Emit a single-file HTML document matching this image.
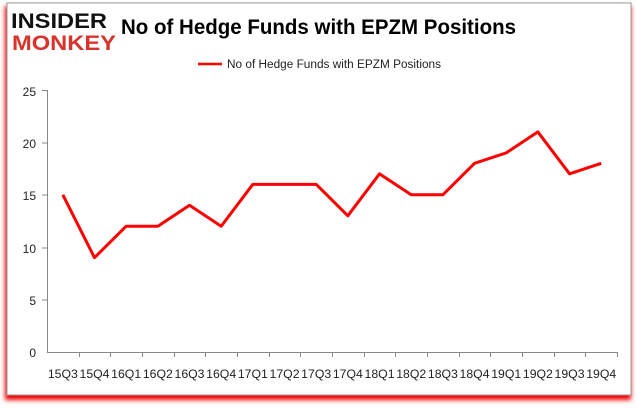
<!DOCTYPE html><html><head><style>body{margin:0;background:#fff;width:637px;height:408px;overflow:hidden;font-family:"Liberation Sans",sans-serif}</style></head><body>
<svg width="637" height="408" xmlns="http://www.w3.org/2000/svg">
<defs><filter id="s" x="-5%" y="-5%" width="110%" height="115%"><feGaussianBlur stdDeviation="2.5"/></filter></defs>
<rect x="5" y="6" width="626" height="394" fill="#e00" filter="url(#s)"/>
<rect x="7" y="3" width="624" height="392" fill="#fff" stroke="#999" stroke-width="1"/>
<text x="11" y="28" font-size="21" font-weight="900" fill="#111" textLength="96" lengthAdjust="spacingAndGlyphs">INSIDER</text>
<text x="12" y="50" font-size="21" font-weight="900" fill="#d9342b" textLength="104" lengthAdjust="spacingAndGlyphs">MONKEY</text>
<text x="121" y="34" font-size="21" font-weight="bold" fill="#000" textLength="395" lengthAdjust="spacingAndGlyphs">No of Hedge Funds with EPZM Positions</text>
<line x1="198" y1="64" x2="222" y2="64" stroke="#f00" stroke-width="2.5"/>
<text x="227" y="68" font-size="11.5" fill="#222" textLength="214" lengthAdjust="spacingAndGlyphs">No of Hedge Funds with EPZM Positions</text>
<g stroke="#888" stroke-width="1">
<line x1="47.5" y1="90" x2="47.5" y2="352"/>
<line x1="47" y1="352.5" x2="618" y2="352.5"/>
<line x1="42" y1="90.5" x2="47" y2="90.5"/><line x1="42" y1="143" x2="47" y2="143"/><line x1="42" y1="195" x2="47" y2="195"/><line x1="42" y1="248" x2="47" y2="248"/><line x1="42" y1="300" x2="47" y2="300"/>
</g>
<g font-size="12" fill="#222" text-anchor="end">
<text x="36" y="96">25</text><text x="36" y="148">20</text><text x="36" y="200">15</text><text x="36" y="253">10</text><text x="36" y="305">5</text><text x="36" y="357">0</text>
</g>
<g id="t" stroke="#888"></g>
<g font-size="12" fill="#222" id="xl"></g>
<polyline id="p" fill="none" stroke="#f00" stroke-width="3" stroke-linejoin="round"/>
</svg>
<script>
var v=[15,9,12,12,14,12,16,16,16,13,17,15,15,18,19,21,17,18],l=["15Q3","15Q4","16Q1","16Q2","16Q3","16Q4","17Q1","17Q2","17Q3","17Q4","18Q1","18Q2","18Q3","18Q4","19Q1","19Q2","19Q3","19Q4"];
var s=31.67,x0=47,pts=[],ns="http://www.w3.org/2000/svg";
for(var i=0;i<18;i++){var x=x0+s*(i+0.5);pts.push(x+","+(352-v[i]*10.48));
var t=document.createElementNS(ns,"text");t.setAttribute("x",x-15);t.setAttribute("y",378);t.setAttribute("textLength",30);t.setAttribute("lengthAdjust","spacingAndGlyphs");t.textContent=l[i];document.getElementById("xl").appendChild(t);
var k=document.createElementNS(ns,"line");var tx=Math.round(x0+s*(i+1))+.5;k.setAttribute("x1",tx);k.setAttribute("x2",tx);k.setAttribute("y1",352);k.setAttribute("y2",357);document.getElementById("t").appendChild(k);}
document.getElementById("p").setAttribute("points",pts.join(" "));
</script>
</body></html>
